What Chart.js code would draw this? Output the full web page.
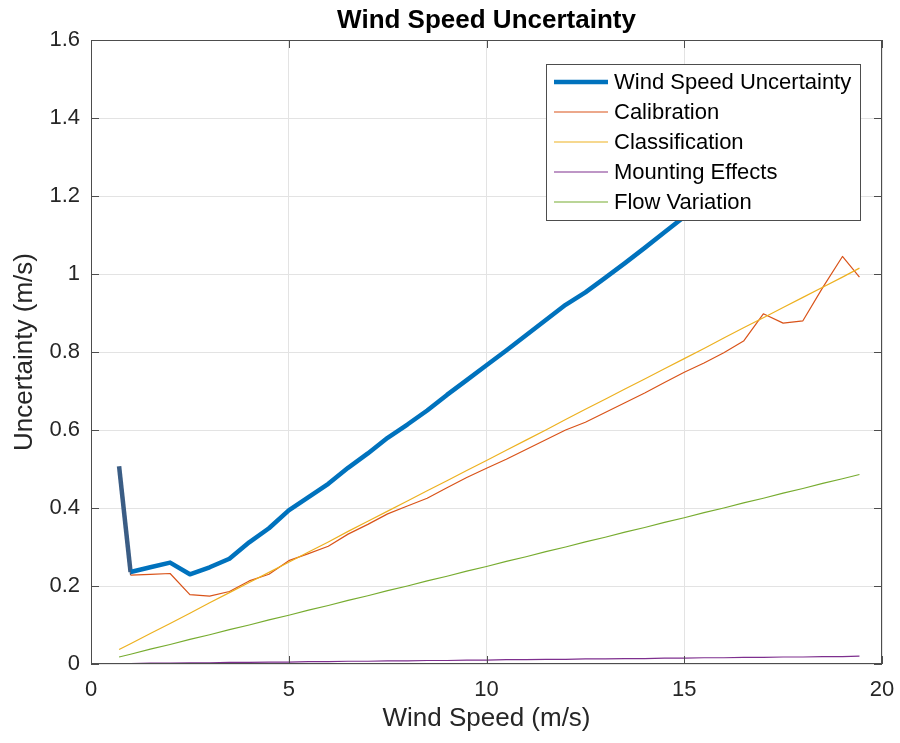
<!DOCTYPE html>
<html>
<head>
<meta charset="utf-8">
<script src="https://cdn.jsdelivr.net/npm/chart.js@4/dist/chart.umd.min.js"></script>
<style>
  html, body { margin: 0; padding: 0; background: #ffffff; }
  #c { display: block; }
</style>
</head>
<body>
<canvas id="c" width="900" height="743"></canvas>
<script>
// ---------- data ----------
const windSpeed = [0.71, 1, 1.5, 2, 2.5, 3, 3.5, 4, 4.5, 5, 5.5, 6, 6.5, 7, 7.5, 8, 8.5, 9, 9.5, 10,
  10.5, 11, 11.5, 12, 12.5, 13, 13.5, 14, 14.5, 15, 15.5, 16, 16.5, 17, 17.5, 18, 18.5, 19, 19.43];

const totalUncertainty = [0.507, 0.236, 0.248, 0.260, 0.230, 0.248, 0.270, 0.312, 0.348, 0.394,
  0.428, 0.462, 0.503, 0.540, 0.580, 0.614, 0.650, 0.690, 0.728, 0.766,
  0.804, 0.843, 0.882, 0.921, 0.953, 0.990, 1.028, 1.067, 1.107, 1.147,
  1.186, 1.225, 1.266, 1.320, 1.336, 1.362, 1.420, 1.516, 1.500];

const calibration = [0.505, 0.228, 0.230, 0.232, 0.178, 0.174, 0.186, 0.213, 0.230, 0.265,
  0.283, 0.302, 0.333, 0.358, 0.385, 0.405, 0.425, 0.452, 0.478, 0.502,
  0.525, 0.550, 0.575, 0.600, 0.620, 0.645, 0.670, 0.695, 0.722, 0.748,
  0.772, 0.798, 0.828, 0.898, 0.874, 0.880, 0.965, 1.045, 0.992];

const classification = [0.037, 0.052, 0.078, 0.104, 0.130, 0.157, 0.183, 0.209, 0.235, 0.261,
  0.287, 0.313, 0.340, 0.366, 0.392, 0.418, 0.444, 0.470, 0.496, 0.522,
  0.548, 0.574, 0.600, 0.627, 0.653, 0.679, 0.705, 0.731, 0.757, 0.783,
  0.809, 0.836, 0.862, 0.888, 0.914, 0.940, 0.966, 0.992, 1.015];

const mountingEffects = [0.001, 0.001, 0.002, 0.002, 0.003, 0.003, 0.004, 0.004, 0.005, 0.005,
  0.006, 0.006, 0.007, 0.007, 0.008, 0.008, 0.009, 0.009, 0.010, 0.010,
  0.011, 0.011, 0.012, 0.012, 0.013, 0.013, 0.014, 0.014, 0.015, 0.015,
  0.016, 0.016, 0.017, 0.017, 0.018, 0.018, 0.019, 0.019, 0.020];

const flowVariation = [0.018, 0.025, 0.038, 0.050, 0.063, 0.075, 0.088, 0.100, 0.113, 0.125,
  0.138, 0.150, 0.163, 0.175, 0.188, 0.200, 0.213, 0.225, 0.238, 0.250,
  0.263, 0.275, 0.288, 0.300, 0.313, 0.325, 0.338, 0.350, 0.363, 0.375,
  0.388, 0.400, 0.413, 0.425, 0.438, 0.450, 0.463, 0.475, 0.486];

const seriesNames = ['Wind Speed Uncertainty', 'Calibration', 'Classification', 'Mounting Effects', 'Flow Variation'];
const xTicks = [0, 5, 10, 15, 20];
const xTickLabels = ['0', '5', '10', '15', '20'];
const yTicks = [0, 0.2, 0.4, 0.6, 0.8, 1, 1.2, 1.4, 1.6];
const yTickLabels = ['0', '0.2', '0.4', '0.6', '0.8', '1', '1.2', '1.4', '1.6'];
const chartTitle = 'Wind Speed Uncertainty';
const xTitle = 'Wind Speed (m/s)';
const yTitle = 'Uncertainty (m/s)';

// ---------- styling ----------
const FONT = "'Liberation Sans', Arial, Helvetica, sans-serif";
const colors = ['#0072BD', '#D95319', '#EDB120', '#7E2F8E', '#77AC30'];
const widths = [4.5, 1.2, 1.2, 1.2, 1.2];
const TXT = '#262626';
const AXIS = '#4d4d4d';
const OVERLAP = '#3b5d85';

function pts(ys) { return windSpeed.map((x, i) => ({ x: x, y: ys[i] })); }

const seriesValues = [totalUncertainty, calibration, classification, mountingEffects, flowVariation];

const datasets = seriesValues.map((vals, i) => {
  const ds = {
    label: seriesNames[i],
    data: pts(vals),
    borderColor: colors[i],
    backgroundColor: colors[i],
    borderWidth: widths[i],
    pointRadius: 0,
    tension: 0,
    fill: false,
    order: 5 - i,
    borderJoinStyle: 'round',
    borderCapStyle: 'butt'
  };
  if (i <= 1) {
    ds.segment = { borderColor: c => (c.p0DataIndex === 0 ? OVERLAP : undefined) };
  }
  return ds;
});

// axes box, inward ticks and in-plot legend
const axesPlugin = {
  id: 'axesBoxLegend',
  afterDatasetsDraw(chart) {
    const { ctx, chartArea, scales } = chart;
    const { left, right, top, bottom } = chartArea;
    const xs = scales.x, ys = scales.y;
    ctx.save();
    ctx.strokeStyle = AXIS;
    ctx.lineWidth = 1;
    ctx.beginPath();
    const TL = 8;
    xTicks.forEach(v => {
      const px = Math.round(xs.getPixelForValue(v)) + 0.5;
      ctx.moveTo(px, bottom); ctx.lineTo(px, bottom - TL);
      ctx.moveTo(px, top); ctx.lineTo(px, top + TL);
    });
    yTicks.forEach(v => {
      const py = Math.round(ys.getPixelForValue(v)) + 0.5;
      ctx.moveTo(left, py); ctx.lineTo(left + TL, py);
      ctx.moveTo(right, py); ctx.lineTo(right - TL, py);
    });
    ctx.stroke();
    ctx.strokeRect(Math.round(left) + 0.5, Math.round(top) + 0.5,
      Math.round(right - left) - 1, Math.round(bottom - top) - 1);

    // legend
    const boxRight = right - 22;
    const boxLeft = boxRight - 314;
    const boxTop = top + 24;
    const rowH = 30;
    const boxBottom = boxTop + 18 + rowH * (seriesNames.length - 1) + 18;
    ctx.fillStyle = '#ffffff';
    ctx.fillRect(boxLeft, boxTop, boxRight - boxLeft, boxBottom - boxTop);
    ctx.strokeStyle = AXIS;
    ctx.lineWidth = 1;
    ctx.strokeRect(boxLeft + 0.5, boxTop + 0.5, boxRight - boxLeft, boxBottom - boxTop);
    ctx.font = '22px ' + FONT;
    ctx.textBaseline = 'middle';
    ctx.textAlign = 'left';
    seriesNames.forEach((name, i) => {
      const cy = boxTop + 18 + i * rowH;
      ctx.strokeStyle = colors[i];
      ctx.lineWidth = widths[i];
      ctx.beginPath();
      ctx.moveTo(boxLeft + 8, cy);
      ctx.lineTo(boxLeft + 62, cy);
      ctx.stroke();
      ctx.fillStyle = '#000000';
      ctx.fillText(name, boxLeft + 68, cy + 1);
    });
    ctx.restore();
  }
};

new Chart(document.getElementById('c'), {
  type: 'line',
  data: { datasets: datasets },
  options: {
    responsive: false,
    animation: false,
    devicePixelRatio: 1,
    layout: { padding: { left: 0, right: 18, top: 0, bottom: 0 } },
    plugins: {
      legend: { display: false },
      tooltip: { enabled: false },
      title: {
        display: true,
        text: chartTitle,
        fullSize: false,
        color: '#000000',
        font: { family: FONT, size: 26, weight: 'bold', lineHeight: 1.2 },
        padding: { top: 5, bottom: 3.8 }
      }
    },
    scales: {
      x: {
        type: 'linear',
        min: 0, max: 20,
        afterFit(scale) { scale.height = 79; scale.paddingLeft = 0; scale.paddingRight = 0; },
        afterBuildTicks(scale) { scale.ticks = xTicks.map(v => ({ value: v })); },
        ticks: {
          color: TXT,
          font: { family: FONT, size: 22, lineHeight: 1.2 },
          padding: 13,
          maxRotation: 0,
          autoSkip: false,
          callback: (v, i) => xTickLabels[i]
        },
        grid: { color: '#e3e3e3', lineWidth: 1, drawTicks: false },
        border: { display: false },
        title: {
          display: true,
          text: xTitle,
          color: TXT,
          font: { family: FONT, size: 26, lineHeight: 1.2 },
          padding: { top: 0, bottom: 8.4 }
        }
      },
      y: {
        type: 'linear',
        min: 0, max: 1.6,
        afterFit(scale) { scale.width = 91; scale.paddingTop = 0; scale.paddingBottom = 0; },
        afterBuildTicks(scale) { scale.ticks = yTicks.map(v => ({ value: v })); },
        ticks: {
          color: TXT,
          font: { family: FONT, size: 22, lineHeight: 1.2 },
          padding: 11,
          autoSkip: false,
          callback: (v, i) => yTickLabels[i]
        },
        grid: { color: '#e3e3e3', lineWidth: 1, drawTicks: false },
        border: { display: false },
        title: {
          display: true,
          text: yTitle,
          color: TXT,
          font: { family: FONT, size: 26, lineHeight: 1.2 },
          padding: { top: 9.4, bottom: 0 }
        }
      }
    }
  },
  plugins: [axesPlugin]
});
</script>
</body>
</html>
